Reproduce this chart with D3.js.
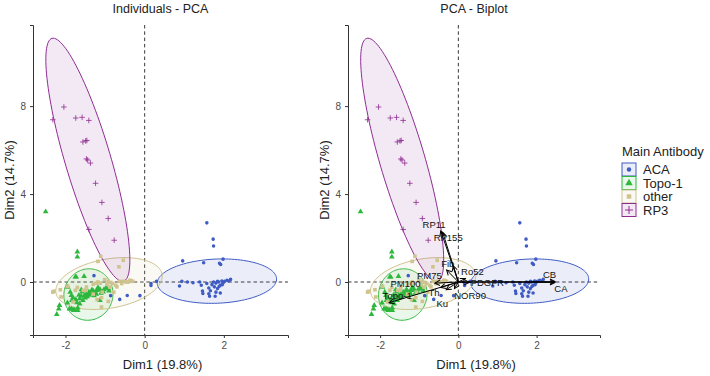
<!DOCTYPE html>
<html>
<head>
<meta charset="utf-8">
<script src="https://cdn.jsdelivr.net/npm/d3@7"></script>
<style>
  body { margin: 0; background: #fff; }
  svg { display: block; font-family: "Liberation Sans", Arial, sans-serif; }
</style>
</head>
<body>
<div id="chart"></div>
<script>
// group names and colours
const groups = ['ACA', 'Topo-1', 'other', 'RP3'];
const groupColors = ['#3f5bc4', '#2db83d', '#cfc38f', '#8e2c92'];

// individuals (Dim1, Dim2)
const acaPts = [
    [1.57, 2.69], [1.73, 1.95], [1.74, 1.64], [0.96, 0.96], [1.49, 0.88], [1.89, 0.85], [1.92, 0.80], [1.98, 1.04],
    [-1.28, 0.29], [0.16, -0.07], [0.16, -0.16], [0.30, 0.03],
    [-0.44, -0.61], [-0.63, -0.79], [-0.86, -0.62], [-0.12, -0.62],
    [0.94, 0.03], [0.88, -0.18], [1.08, 0.0], [1.22, -0.03], [1.39, 0.0], [1.43, -0.15], [1.46, -0.41], [1.62, -0.27],
    [1.66, -0.40], [1.62, -0.53], [1.80, -0.46], [1.78, -0.65], [1.84, -0.30], [1.91, -0.15], [1.84, 0.03], [1.98, -0.04],
    [2.02, 0.03], [2.08, 0.08], [2.17, 0.12], [1.95, 0.05], [1.80, -0.05], [1.74, 0.0], [1.70, -0.12], [1.88, -0.20],
    [1.96, -0.12], [1.57, -0.07], [1.64, -0.65], [1.47, -0.52], [1.91, -0.50], [2.12, 0.05], [1.87, 0.0], [1.76, -0.22]
];
const topoPts = [
    [-2.50, 3.20], [-1.70, 1.37], [-1.70, 1.14], [-1.75, 0.23], [-1.53, 0.26],
    [-1.94, -0.23], [-1.88, -0.46], [-1.81, -0.71], [-1.84, -0.84], [-1.74, -0.80], [-1.64, -0.76], [-1.71, -0.94],
    [-1.60, -0.64], [-1.52, -0.61], [-1.47, -0.53], [-1.41, -0.46], [-1.35, -0.50], [-1.30, -0.41], [-1.25, -0.45],
    [-1.20, -0.38], [-1.13, -0.33], [-1.10, -0.50], [-1.03, -0.35], [-0.98, -0.27], [-0.92, -0.30], [-0.90, -0.40],
    [-1.41, -0.60], [-1.38, -0.55], [-1.45, -0.66], [-1.56, -0.84], [-1.64, -0.99], [-1.85, -1.22], [-1.81, -1.26],
    [-1.77, -1.27], [-1.69, -1.17], [-2.15, -1.06], [-2.17, -1.22], [-2.22, -1.47], [-1.13, -0.84], [-1.90, -1.22],
    [-1.79, -1.29], [-1.69, -1.29], [-1.85, -0.61], [-1.58, -0.45], [-1.28, -0.62], [-1.22, -0.55], [-1.50, -0.72],
    [-1.66, -0.60], [-1.33, -0.35], [-1.18, -0.25], [-1.05, -0.45], [-1.60, -0.35], [-1.95, -0.95], [-1.73, 0.23]
];
const otherPts = [
    [-1.11, 1.17], [-0.54, 0.99], [-0.65, 0.69], [-1.18, 0.94], [-2.29, -0.42], [-2.13, -0.35], [-2.11, -0.68],
    [-1.94, -0.20], [-1.75, -0.38], [-1.70, -0.25], [-1.47, -0.23], [-1.48, -0.38], [-1.18, 0.0], [-1.12, -0.05],
    [-1.01, 0.11], [-0.92, 0.03], [-0.86, -0.02], [-0.81, -0.07], [-0.73, -0.15], [-0.64, 0.03], [-0.54, 0.03],
    [-0.47, 0.0], [-0.37, 0.08], [-0.30, 0.03], [-0.88, -0.23], [-0.78, -0.46], [-0.70, -0.22], [-1.07, -0.46],
    [-1.09, -1.14], [-0.92, -0.88], [-1.81, -0.91], [-1.09, -0.71], [-1.30, -0.10], [-1.22, -0.05], [-1.55, -0.38],
    [-0.95, -0.10], [-2.32, -0.46], [-0.58, -0.07], [-0.42, 0.0], [-0.34, 0.05], [-1.30, -0.55], [-1.20, -0.80]
];
const rp3Pts = [
    [-2.04, 7.96], [-2.32, 7.38], [-1.74, 7.46], [-1.58, 7.49], [-1.41, 7.35], [-1.56, 6.37], [-1.49, 6.42],
    [-1.46, 6.44], [-1.47, 5.60], [-1.37, 5.41], [-1.44, 5.55], [-1.24, 4.49], [-1.08, 3.62], [-0.92, 2.89],
    [-1.41, 2.39], [-0.77, 1.90]
];
const groupPts = [acaPts, topoPts, otherPts, rp3Pts];

// concentration ellipses: centre, conjugate semi-diameters (u = to the top point, v = horizontal)
const ellCx = [1.825, -1.42, -0.90, -1.435];
const ellCy = [0.04, -0.57, -0.07, 5.56];
const ellUx = [0.14, 0.02, 0.38, -0.875];
const ellUy = [1.01, 1.17, 1.18, 5.53];
const ellVx = [1.50, 0.62, 1.29, 0.60];

// variables (biplot arrows)
const varNames = ['CA', 'CB', 'RP11', 'RP155', 'Fib', 'PM75', 'Ro52', 'PDGFR', 'NOR90', 'Ku', 'Th', 'PM100', 'Topo-1'];
const varX = [2.47, 2.47, -0.45, -0.40, -0.13, -0.30, 0.18, 0.28, -0.10, -0.31, -0.45, -0.60, -1.77];
const varY = [-0.02, 0.02, 2.32, 2.26, 0.74, 0.55, 0.16, -0.02, -0.30, -0.35, -0.25, -0.05, -0.94];
const labelX = [2.62, 2.33, -0.62, -0.26, -0.27, -0.74, 0.36, 0.74, 0.30, -0.41, -0.62, -1.35, -1.56];
const labelY = [-0.30, 0.33, 2.62, 2.00, 0.85, 0.31, 0.49, -0.03, -0.62, -0.98, -0.48, -0.08, -0.62];

// axes
const xDomain = [-2.82, 3.62];
const yDomain = [-2.41, 11.69];
const xTicks = [-2, 0, 2];
const yTicks = [0, 4, 8];

const width = 710, height = 376;
const plotTop = 25, plotBottom = 335;

const svg = d3.select('#chart').append('svg')
    .attr('width', width)
    .attr('height', height);

const defs = svg.append('defs');
defs.append('marker')
    .attr('id', 'arrow')
    .attr('viewBox', '-6 -4 8 8')
    .attr('refX', 0).attr('refY', 0)
    .attr('markerWidth', 8).attr('markerHeight', 8)
    .attr('markerUnits', 'userSpaceOnUse')
    .attr('orient', 'auto')
    .append('path')
    .attr('d', 'M-5,-2.6L0,0L-5,2.6')
    .attr('fill', 'none')
    .attr('stroke', '#000')
    .attr('stroke-width', 1);

function symbolPath(i) {
    if (i === 0) return d3.symbol(d3.symbolCircle, 10)();
    if (i === 1) return d3.symbol(d3.symbolTriangle, 14)();
    if (i === 2) return d3.symbol(d3.symbolSquare, 13)();
    return 'M-2.8,0H2.8M0,-2.8V2.8';
}

function drawPanel(x0, x1, title, biplot) {
    const x = d3.scaleLinear().domain(xDomain).range([x0, x1]);
    const y = d3.scaleLinear().domain(yDomain).range([plotBottom, plotTop]);
    const g = svg.append('g');
    const mid = (x0 + x1) / 2;

    // zero reference lines
    g.append('line')
        .attr('x1', x(0)).attr('x2', x(0)).attr('y1', plotTop).attr('y2', plotBottom)
        .attr('stroke', '#222').attr('stroke-width', 0.9).attr('stroke-dasharray', '3.5,2.8');
    g.append('line')
        .attr('x1', x0).attr('x2', x1).attr('y1', y(0)).attr('y2', y(0))
        .attr('stroke', '#222').attr('stroke-width', 0.9).attr('stroke-dasharray', '3.5,2.8');

    // ellipses
    const ts = d3.range(0, 121).map(i => i / 120 * 2 * Math.PI);
    const ell = d3.line()
        .x(d => x(d.x))
        .y(d => y(d.y));
    groups.forEach((grp, i) => {
        const pts = ts.map(t => ({
            x: ellCx[i] + ellUx[i] * Math.cos(t) + ellVx[i] * Math.sin(t),
            y: ellCy[i] + ellUy[i] * Math.cos(t)
        }));
        g.append('path')
            .attr('d', ell(pts) + 'Z')
            .attr('fill', groupColors[i])
            .attr('fill-opacity', 0.1)
            .attr('stroke', groupColors[i])
            .attr('stroke-width', 1);
    });

    // individuals
    groups.forEach((grp, i) => {
        g.append('g').selectAll('path')
            .data(groupPts[i])
            .join('path')
            .attr('transform', d => `translate(${x(d[0])},${y(d[1])})`)
            .attr('d', symbolPath(i))
            .attr('fill', i === 3 ? 'none' : groupColors[i])
            .attr('stroke', i === 3 ? groupColors[i] : 'none')
            .attr('stroke-width', 0.8);
    });

    // variable arrows
    if (biplot) {
        const ga = g.append('g');
        ga.selectAll('line')
            .data(varNames)
            .join('line')
            .attr('x1', x(0)).attr('y1', y(0))
            .attr('x2', (d, i) => x(varX[i]))
            .attr('y2', (d, i) => y(varY[i]))
            .attr('stroke', '#000')
            .attr('stroke-width', 1)
            .attr('marker-end', 'url(#arrow)');
        ga.selectAll('text')
            .data(varNames)
            .join('text')
            .attr('x', (d, i) => x(labelX[i]))
            .attr('y', (d, i) => y(labelY[i]))
            .attr('dy', '0.35em')
            .attr('text-anchor', 'middle')
            .attr('font-size', 9.5)
            .attr('fill', '#111')
            .text(d => d);
    }

    // axes
    const ax = g.append('g')
        .attr('transform', `translate(0,${plotBottom})`)
        .call(d3.axisBottom(x).tickValues(xTicks).tickFormat(d => String(d))
            .tickSizeOuter(0).tickSize(3).tickPadding(4));
    const ay = g.append('g')
        .attr('transform', `translate(${x0},0)`)
        .call(d3.axisLeft(y).tickValues(yTicks).tickFormat(d => String(d))
            .tickSizeOuter(0).tickSize(3).tickPadding(4));
    [ax, ay].forEach(a => {
        a.select('.domain').attr('stroke', '#333').attr('stroke-width', 1);
        a.selectAll('.tick line').attr('stroke', '#333');
        a.selectAll('.tick text')
            .attr('fill', '#4d4d4d')
            .attr('font-size', 10)
            .attr('font-family', '"Liberation Sans", Arial, sans-serif');
    });

    // titles
    g.append('text')
        .attr('x', mid).attr('y', 13)
        .attr('text-anchor', 'middle')
        .attr('font-size', 12.5).attr('fill', '#222')
        .text(title);
    g.append('text')
        .attr('x', mid + 2).attr('y', 369)
        .attr('text-anchor', 'middle')
        .attr('font-size', 13).attr('fill', '#222')
        .text('Dim1 (19.8%)');
    g.append('text')
        .attr('transform', `translate(${x0 - 24},${(plotTop + plotBottom) / 2}) rotate(-90)`)
        .attr('dy', '0.35em')
        .attr('text-anchor', 'middle')
        .attr('font-size', 13).attr('fill', '#222')
        .text('Dim2 (14.7%)');
}

drawPanel(33, 288, 'Individuals - PCA', false);
drawPanel(348, 600, 'PCA - Biplot', true);

// legend
const legend = svg.append('g').attr('transform', 'translate(622,0)');
legend.append('text')
    .attr('x', 0).attr('y', 156)
    .attr('font-size', 13).attr('fill', '#222')
    .text('Main Antibody');
const rows = legend.selectAll('g.key')
    .data(groups)
    .join('g')
    .attr('class', 'key')
    .attr('transform', (d, i) => `translate(0,${169.5 + i * 13.5})`);
rows.append('rect')
    .attr('x', 0).attr('y', -6.5)
    .attr('width', 14).attr('height', 13)
    .attr('fill', (d, i) => groupColors[i])
    .attr('fill-opacity', 0.1)
    .attr('stroke', (d, i) => groupColors[i])
    .attr('stroke-width', 1);
rows.append('path')
    .attr('transform', 'translate(7,0)')
    .attr('d', (d, i) => i === 0 ? d3.symbol(d3.symbolCircle, 16)()
        : i === 1 ? d3.symbol(d3.symbolTriangle, 24)()
        : i === 2 ? d3.symbol(d3.symbolSquare, 20)()
        : 'M-4,0H4M0,-4V4')
    .attr('fill', (d, i) => i === 3 ? 'none' : groupColors[i])
    .attr('stroke', (d, i) => i === 3 ? groupColors[i] : 'none')
    .attr('stroke-width', 1);
rows.append('text')
    .attr('x', 21).attr('y', 0)
    .attr('dy', '0.35em')
    .attr('font-size', 13).attr('fill', '#222')
    .text(d => d);
</script>
</body>
</html>
